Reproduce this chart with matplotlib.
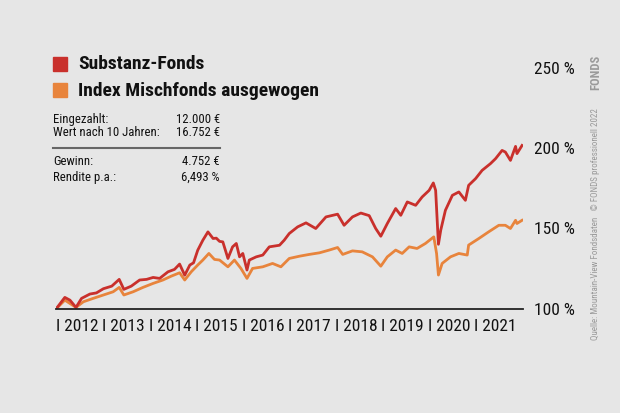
import matplotlib
matplotlib.use("Agg")
import matplotlib.pyplot as plt
import matplotlib.transforms as mtrans
from matplotlib import font_manager

# Werte (Startwert = 100 %)
sub_years = [2012.00, 2012.19, 2012.30, 2012.43, 2012.55, 2012.73, 2012.87, 2013.02, 2013.20, 2013.36,
             2013.46, 2013.62, 2013.80, 2013.95, 2014.09, 2014.23, 2014.41, 2014.55, 2014.66, 2014.77,
             2014.88, 2014.96, 2015.05, 2015.16, 2015.27, 2015.38, 2015.45, 2015.52, 2015.59, 2015.70,
             2015.80, 2015.88, 2015.95, 2016.02, 2016.11, 2016.16, 2016.31, 2016.45, 2016.59, 2016.81,
             2016.91, 2017.02, 2017.20, 2017.38, 2017.59, 2017.81, 2018.06, 2018.20, 2018.38, 2018.56,
             2018.74, 2018.88, 2018.99, 2019.13, 2019.31, 2019.42, 2019.56, 2019.74, 2019.88, 2020.03,
             2020.12, 2020.17, 2020.23, 2020.28, 2020.38, 2020.53, 2020.67, 2020.81, 2020.88, 2021.03,
             2021.17, 2021.35, 2021.46, 2021.60, 2021.67, 2021.78, 2021.89, 2021.92, 2022.03]
sub_vals = [100.0, 107.2, 105.5, 101.0, 106.6, 109.3, 110.0, 112.6, 114.2, 118.4,
            112.2, 114.2, 118.0, 118.4, 119.6, 119.0, 123.1, 124.6, 127.9, 121.0,
            127.3, 128.7, 136.5, 142.7, 147.9, 143.8, 144.0, 142.0, 141.7, 131.4,
            138.6, 140.7, 132.4, 134.5, 124.2, 130.4, 132.4, 133.5, 138.6, 139.6,
            142.7, 146.9, 151.0, 153.5, 150.0, 157.2, 158.9, 152.0, 157.2, 159.6,
            158.0, 150.0, 145.2, 153.1, 162.4, 158.2, 166.5, 164.4, 169.6, 173.7,
            178.3, 173.7, 140.2, 149.0, 161.3, 170.6, 172.7, 167.5, 176.8, 181.0,
            186.1, 190.3, 193.4, 198.5, 197.5, 192.3, 201.0, 196.5, 201.6]

idx_years = [2012.00, 2012.19, 2012.43, 2012.59, 2012.80, 2013.02, 2013.23, 2013.36, 2013.46, 2013.66,
             2013.87, 2014.09, 2014.30, 2014.48, 2014.66, 2014.77, 2014.91, 2015.05, 2015.16, 2015.29,
             2015.41, 2015.52, 2015.70, 2015.84, 2015.98, 2016.11, 2016.23, 2016.45, 2016.66, 2016.84,
             2017.02, 2017.24, 2017.45, 2017.67, 2017.88, 2018.06, 2018.17, 2018.38, 2018.59, 2018.81,
             2018.99, 2019.13, 2019.31, 2019.45, 2019.60, 2019.77, 2019.95, 2020.13, 2020.19, 2020.23,
             2020.31, 2020.49, 2020.67, 2020.85, 2020.88, 2021.10, 2021.31, 2021.53, 2021.67, 2021.78,
             2021.89, 2021.92, 2022.03]
idx_vals = [100.0, 105.5, 101.0, 104.5, 106.6, 108.7, 110.7, 113.4, 108.7, 110.7,
            113.4, 115.9, 118.0, 120.4, 122.5, 118.0, 123.1, 127.3, 130.4, 134.5,
            130.8, 130.4, 126.2, 130.4, 125.2, 119.0, 125.2, 126.2, 128.3, 126.2,
            131.4, 132.8, 133.9, 134.9, 136.6, 138.2, 133.9, 136.1, 135.5, 132.4,
            126.6, 132.4, 136.6, 134.5, 138.6, 137.6, 140.7, 144.8, 134.5, 121.1,
            128.3, 132.4, 134.5, 133.5, 139.7, 143.8, 147.9, 152.0, 152.0, 150.0,
            155.1, 153.1, 155.1]

year_ticks = list(range(2012, 2022))
y_ticks = [100, 150, 200, 250]
series_names = ["Substanz-Fonds", "Index Mischfonds ausgewogen"]
info_rows = [("Eingezahlt:", "12.000 €"), ("Wert nach 10 Jahren:", "16.752 €"),
             ("Gewinn:", "4.752 €"), ("Rendite p.a.:", "6,493 %")]

RED = "#c9302c"
ORANGE = "#e8843c"
BG = "#e6e6e6"

installed = {f.name for f in font_manager.fontManager.ttflist}
cond = next((f for f in ["Liberation Sans Narrow", "DejaVu Sans Condensed", "Roboto Condensed"]
             if f in installed), "DejaVu Sans")
plt.rcParams['font.family'] = [cond, "DejaVu Sans"]

fig = plt.figure(figsize=(6.2, 4.13), dpi=100, facecolor=BG)
ax = fig.add_axes([56 / 620, 1 - 309 / 413, (523 - 56) / 620, (309 - 67.5) / 413])
ax.set_facecolor(BG)

ax.plot(idx_years, idx_vals, color=ORANGE, lw=2.0, solid_joinstyle="round")
ax.plot(sub_years, sub_vals, color=RED, lw=2.0, solid_joinstyle="round")

ax.set_xlim(2012, 2022.05)
ax.set_ylim(100, 250)
for s in ["top", "left", "right"]:
    ax.spines[s].set_visible(False)
ax.spines["bottom"].set_linewidth(1.3)
ax.spines["bottom"].set_color("#222222")

# Jahresbeschriftung "I 2012" usw.
ax.set_xticks([])
off = mtrans.ScaledTranslation(0, -7 / 72, fig.dpi_scale_trans)
for y in year_ticks:
    ax.text(y, 100, "I " + str(y), transform=ax.transData + off, ha="left", va="top",
            fontsize=12.5, color="#111111")

ax.yaxis.tick_right()
ax.set_yticks(y_ticks)
ax.set_yticklabels([f"{v} %" for v in y_ticks], fontsize=12.5, color="#111111")
ax.tick_params(axis="y", length=0, pad=8)

# Legende
for i, (name, col) in enumerate(zip(series_names, [RED, ORANGE])):
    yy = 1 - (64 + i * 26.5) / 413
    fig.patches.append(plt.Rectangle((53 / 620, yy - 7 / 413), 14 / 620, 14 / 413,
                                     transform=fig.transFigure, color=col, zorder=3))
    fig.text(78 / 620, yy, name, fontsize=14, fontweight="bold", va="center",
             ha="left", color="#111111")

# Infotabelle
row_y = [120, 133, 161, 177]
for (lab, val), yy in zip(info_rows, row_y):
    fig.text(53 / 620, 1 - yy / 413, lab, fontsize=9.2, va="center", ha="left", color="#111111")
    fig.text(220 / 620, 1 - yy / 413, val, fontsize=9.2, va="center", ha="right", color="#111111")
fig.add_artist(plt.Line2D([53 / 620, 220 / 620], [1 - 148 / 413, 1 - 148 / 413],
                          color="#666666", lw=1.5))

# Quelle rechts
fig.text(596 / 620, 1 - 340 / 413,
         "Quelle: Mountain-View Fondsdaten   © FONDS professionell 2022",
         rotation=90, fontsize=6.5, color="#9a9a9a", ha="center", va="bottom")
fig.text(596 / 620, 1 - 72 / 413, "FONDS", rotation=90, fontsize=9, fontweight="bold",
         color="#9a9a9a", ha="center", va="center")

fig.savefig("out.png", dpi=100, facecolor=BG)
